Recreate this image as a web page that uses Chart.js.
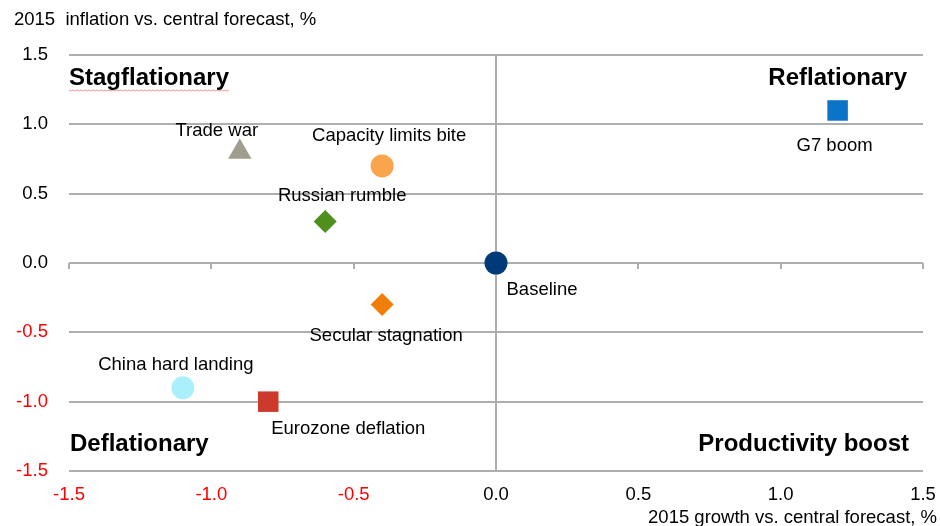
<!DOCTYPE html>
<html>
<head>
<meta charset="utf-8">
<script src="https://cdn.jsdelivr.net/npm/chart.js@4"></script>
<style>
  html, body { margin: 0; padding: 0; background: #fff; }
  #wrap { width: 940px; height: 526px; position: relative; }
</style>
</head>
<body>
<div id="wrap"><canvas id="scenarioChart"></canvas></div>
<script>
// data
let scenarios = ['Trade war', 'Capacity limits bite', 'Russian rumble', 'Baseline',
                 'Secular stagnation', 'China hard landing', 'Eurozone deflation', 'G7 boom'];
let growth    = [-0.9, -0.4, -0.6, 0.0, -0.4, -1.1, -0.8, 1.2];
let inflation = [0.8, 0.7, 0.3, 0.0, -0.3, -0.9, -1.0, 1.1];
let axisTicks = [-1.5, -1.0, -0.5, 0.0, 0.5, 1.0, 1.5];

// styling
let markerColors = ['#a09d8f', '#f9a54b', '#4e8f1e', '#003a78', '#f07f0a', '#aaf0fa', '#cc3a2b', '#0a74c9'];
let markerShapes = ['triangle', 'circle', 'rectRot', 'circle', 'rectRot', 'circle', 'rect', 'rect'];
let markerSizes  = [13.5, 11.5, 11.5, 11.5, 11.5, 11.5, 14.5, 14.5];
let labelOffsets = [[-23, -21], [7, -30], [17, -25], [46, 27], [4, 31], [-7, -23], [80, 27], [-3, 35]];

let font = '"Liberation Sans", Arial, Helvetica, sans-serif';
let gridColor = '#aeaeae';

let datasets = scenarios.map((name, i) => ({
    label: name,
    data: [{ x: growth[i], y: inflation[i] }],
    pointStyle: markerShapes[i],
    pointRadius: markerSizes[i],
    pointHoverRadius: markerSizes[i],
    backgroundColor: markerColors[i],
    borderColor: markerColors[i],
    borderWidth: 0
}));

let decorations = {
    id: 'decorations',
    beforeDatasetsDraw(chart) {
        let ctx = chart.ctx;
        let xs = chart.scales.x, ys = chart.scales.y;
        let y0 = ys.getPixelForValue(0);
        ctx.save();
        ctx.strokeStyle = gridColor;
        ctx.lineWidth = 2;
        axisTicks.forEach(v => {
            let px = Math.round(xs.getPixelForValue(v));
            ctx.beginPath();
            ctx.moveTo(px, y0);
            ctx.lineTo(px, y0 + 6);
            ctx.stroke();
        });
        ctx.restore();
    },
    afterDatasetsDraw(chart) {
        let ctx = chart.ctx;
        let xs = chart.scales.x, ys = chart.scales.y;
        ctx.save();
        // point labels
        ctx.fillStyle = '#000';
        ctx.font = '18.5px ' + font;
        ctx.textAlign = 'center';
        ctx.textBaseline = 'middle';
        scenarios.forEach((name, i) => {
            let px = xs.getPixelForValue(growth[i]) + labelOffsets[i][0];
            let py = ys.getPixelForValue(inflation[i]) + labelOffsets[i][1];
            ctx.fillText(name, px, py);
        });
        // quadrant labels
        ctx.font = 'bold 24px ' + font;
        ctx.textAlign = 'left';
        ctx.fillText('Stagflationary', 69, 78);
        ctx.fillText('Deflationary', 70, 444);
        ctx.textAlign = 'right';
        ctx.fillText('Reflationary', 907, 78);
        ctx.fillText('Productivity boost', 909, 444);
        // spellcheck squiggle under Stagflationary
        let w = ctx.measureText('Stagflationary').width;
        ctx.strokeStyle = 'rgba(230,80,80,0.6)';
        ctx.lineWidth = 1;
        ctx.beginPath();
        for (let x = 0; x <= w; x += 2) {
            let yy = 90 + ((x / 2) % 2 === 0 ? 0 : 1);
            if (x === 0) ctx.moveTo(69 + x, yy); else ctx.lineTo(69 + x, yy);
        }
        ctx.stroke();
        // axis titles
        ctx.font = '18.5px ' + font;
        ctx.textAlign = 'left';
        ctx.fillText('2015  inflation vs. central forecast, %', 14, 20);
        ctx.textAlign = 'right';
        ctx.fillText('2015 growth vs. central forecast, %', 937, 518);
        ctx.restore();
    }
};

let canvas = document.getElementById('scenarioChart');
let ctxScenario = canvas.getContext('2d');

let scenarioChart = new Chart(ctxScenario, {
    type: 'scatter',
    data: { datasets: datasets },
    options: {
        responsive: true,
        maintainAspectRatio: false,
        animation: false,
        layout: { padding: { left: 0, right: 17, top: 55, bottom: 0 } },
        plugins: {
            legend: { display: false },
            tooltip: { enabled: false }
        },
        scales: {
            x: {
                type: 'linear',
                min: -1.5,
                max: 1.5,
                afterBuildTicks: s => { s.ticks = axisTicks.map(v => ({ value: v })); },
                afterFit: s => { s.height = 55; s.paddingLeft = 0; s.paddingRight = 0; },
                border: { display: false },
                grid: {
                    drawTicks: false,
                    lineWidth: 2,
                    color: c => (c.tick && c.tick.value === 0) ? gridColor : 'rgba(0,0,0,0)'
                },
                ticks: {
                    padding: 13,
                    maxRotation: 0,
                    font: { family: font, size: 18.5 },
                    color: c => c.tick.value < 0 ? '#ff0000' : '#000',
                    callback: v => v.toFixed(1)
                }
            },
            y: {
                type: 'linear',
                min: -1.5,
                max: 1.5,
                afterBuildTicks: s => { s.ticks = axisTicks.map(v => ({ value: v })); },
                afterFit: s => { s.width = 69; s.paddingTop = 0; s.paddingBottom = 0; },
                border: { display: false },
                grid: {
                    drawTicks: false,
                    lineWidth: 2,
                    color: gridColor
                },
                ticks: {
                    padding: 21,
                    font: { family: font, size: 18.5 },
                    color: c => c.tick.value < 0 ? '#ff0000' : '#000',
                    callback: v => v.toFixed(1)
                }
            }
        }
    },
    plugins: [decorations]
});
</script>
</body>
</html>
